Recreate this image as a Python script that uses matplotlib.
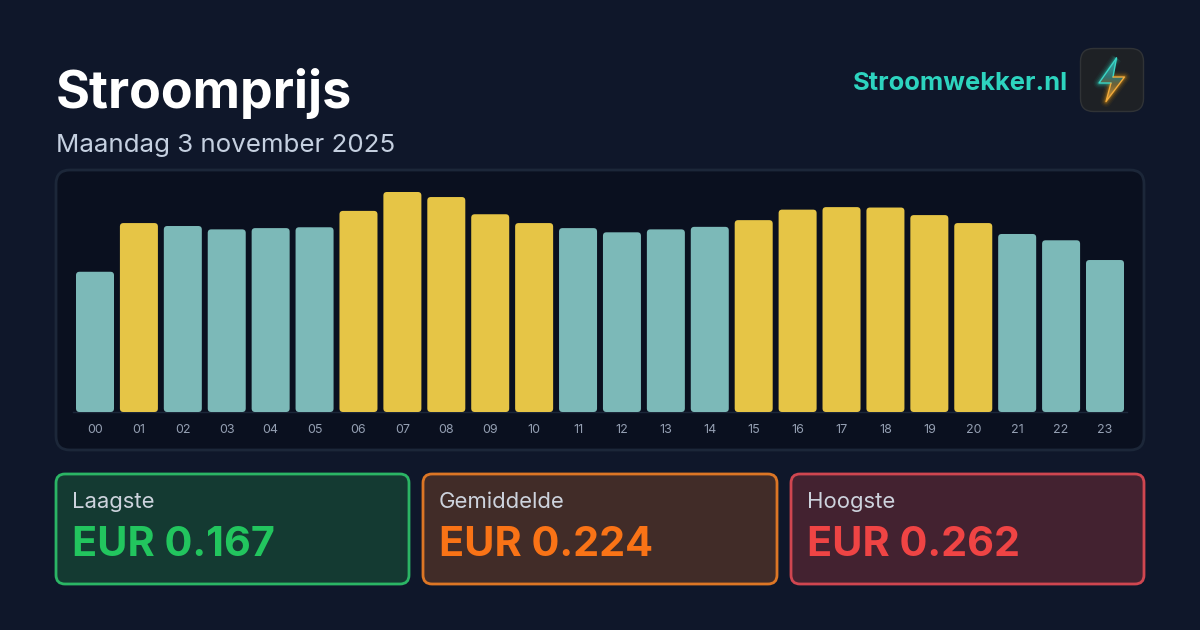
import matplotlib
matplotlib.use("Agg")
import matplotlib.pyplot as plt
import numpy as np
from matplotlib.patches import FancyBboxPatch, Polygon

plt.rcParams['font.family'] = ['Inter', 'DejaVu Sans']

# Hourly price in EUR per kWh
hours = ["00", "01", "02", "03", "04", "05", "06", "07", "08", "09", "10", "11",
         "12", "13", "14", "15", "16", "17", "18", "19", "20", "21", "22", "23"]
prices = [0.167, 0.225, 0.2215, 0.2175, 0.219, 0.220, 0.2395, 0.262, 0.256, 0.2355,
          0.225, 0.219, 0.214, 0.2175, 0.2205, 0.2285, 0.241, 0.244, 0.2435, 0.2345,
          0.225, 0.212, 0.2045, 0.181]
average_price = 0.224

stat_labels = ["Laagste", "Gemiddelde", "Hoogste"]
stat_values = ["EUR 0.167", "EUR 0.224", "EUR 0.262"]
stat_colors = ["#22c55e", "#f97316", "#ef4444"]
stat_fills = ["#143a32", "#412c28", "#432230"]
stat_edges = ["#2bb565", "#dc7625", "#cf4650"]

W, H = 1200, 630
BG = "#0f172a"
fig = plt.figure(figsize=(W / 100, H / 100), dpi=100, facecolor=BG)

# Overlay spanning the figure, in pixel units with the origin top-left
page = fig.add_axes([0, 0, 1, 1], zorder=0)
page.set_xlim(0, W)
page.set_ylim(H, 0)
page.axis("off")


def rounded(ax, x0, y0, x1, y1, r, face, edge="none", lw=0.0, z=1, **kw):
    patch = FancyBboxPatch((x0, y0), x1 - x0, y1 - y0,
                           boxstyle=f"round,pad=0,rounding_size={r}",
                           facecolor=face, edgecolor=edge, linewidth=lw, zorder=z, **kw)
    ax.add_patch(patch)
    return patch


# Header
page.text(56, 108, "Stroomprijs", color="white", fontsize=37.4, fontweight="bold")
page.text(56.5, 152, "Maandag 3 november 2025", color="#c5d0e0", fontsize=18.65)
page.text(1068, 90, "Stroomwekker.nl", color="#2dd4bf", fontsize=18.4,
          fontweight="bold", ha="right")

# App icon with a glowing bolt
rounded(page, 1080.5, 48.5, 1143.5, 111.5, 13, "#1e2125", "#303336", 1.0, z=2)
bolt = np.array([[1116.5, 58], [1099, 83], [1111, 83], [1106, 101.5], [1124.5, 77], [1113, 77]])
for lw, alpha in [(8, 0.05), (6, 0.08), (4, 0.14), (2.5, 0.2)]:
    page.add_patch(Polygon(bolt[:3], closed=False, fill=False, edgecolor="#2dd4bf",
                           lw=lw, alpha=alpha, zorder=3, joinstyle="round"))
    page.add_patch(Polygon(bolt[2:], closed=False, fill=False, edgecolor="#f59e0b",
                           lw=lw, alpha=alpha, zorder=3, joinstyle="round"))
shade = np.linspace(0, 1, 64)
stops = np.array([[0.17, 0.72, 0.70], [0.20, 0.45, 0.44], [0.42, 0.38, 0.22], [0.92, 0.62, 0.20]])
grad = np.stack([np.interp(shade, [0, 0.45, 0.6, 1], stops[:, c]) for c in range(3)], axis=1)[:, None, :]
img = page.imshow(grad, extent=(1096, 1127, 103, 56), aspect="auto", zorder=4, interpolation="bilinear")
img.set_clip_path(Polygon(bolt, closed=True, transform=page.transData))
page.plot(*bolt[[0, 1, 2]].T, color="#3ad6c6", lw=1.0, zorder=5, solid_capstyle="round")
page.plot(*bolt[[0, 5]].T, color="#3ad6c6", lw=1.0, zorder=5, solid_capstyle="round")
page.plot(*bolt[[2, 3, 4, 5]].T, color="#f2ab3c", lw=1.0, zorder=5, solid_capstyle="round")
page.set_xlim(0, W)
page.set_ylim(H, 0)

# Chart panel
rounded(page, 56, 170, 1144, 450, 14, "#0a101f", "#1c2739", 2.0, z=1)

# Summary cards
cards_x = [(56, 409), (423, 777), (791, 1144)]
for (x0, x1), label, value, col, fill, edge in zip(cards_x, stat_labels, stat_values,
                                                   stat_colors, stat_fills, stat_edges):
    rounded(page, x0, 474, x1, 584, 9, fill, edge, 2.0, z=1)
    page.text(x0 + 16, 508, label, color="#cdd3dd", fontsize=15.9)
    page.text(x0 + 16, 556, value, color=col, fontsize=29.8, fontweight="bold")

# Bar chart axes: one hour per 43.91 px, and 839.7 px per EUR
left, right, base, top = 73.04, 1126.96, 412.0, 172.0
px_per_eur = 839.7
ax = fig.add_axes([left / W, 1 - base / H, (right - left) / W, (base - top) / H], zorder=1)
ax.set_facecolor("none")
ax.set_xlim(-0.5, len(hours) - 0.5)
ax.set_ylim(0, (base - top) / px_per_eur)
for side in ("top", "left", "right"):
    ax.spines[side].set_visible(False)
ax.spines["bottom"].set_color("#1c2739")
ax.spines["bottom"].set_linewidth(1.0)
ax.set_yticks([])
ax.set_xticks(range(len(hours)))
ax.set_xticklabels(hours, fontsize=9, color="#949fb2")
ax.tick_params(axis="x", length=0, pad=8.5)

bar_w = 38 / 43.91
pitch = (right - left) / len(hours)
aspect = (1 / px_per_eur) / (1 / pitch)
for i, price in enumerate(prices):
    color = "#e6c546" if price > average_price else "#7cb9b8"
    ax.add_patch(FancyBboxPatch((i - bar_w / 2, 0), bar_w, price,
                                boxstyle=f"round,pad=0,rounding_size={3.5 / pitch}",
                                mutation_aspect=aspect, facecolor=color,
                                edgecolor="none", zorder=3))

fig.savefig("out.png", dpi=100, facecolor=BG)
